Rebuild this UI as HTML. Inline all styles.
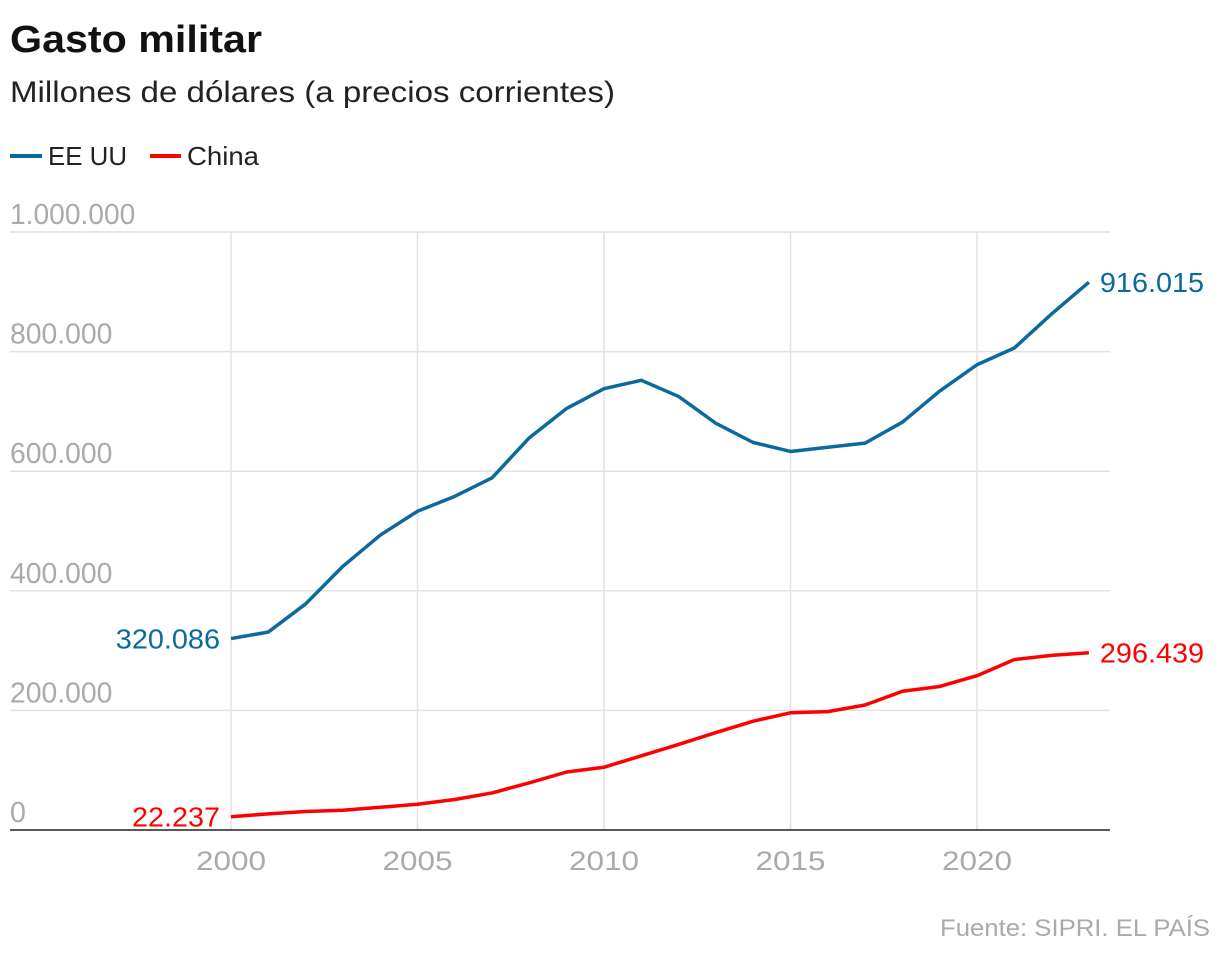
<!DOCTYPE html>
<html><head><meta charset="utf-8"><style>
body{margin:0;background:#fff;width:1220px;height:958px;overflow:hidden;font-family:"Liberation Sans",sans-serif}
svg{display:block}
</style></head><body>
<svg id="chart" width="1220" height="958" xmlns="http://www.w3.org/2000/svg" font-family="Liberation Sans, sans-serif">
<text x="10" y="52" font-size="38" font-weight="bold" fill="#111" textLength="252" lengthAdjust="spacingAndGlyphs">Gasto militar</text>
<text x="10" y="102" font-size="30" fill="#222" textLength="605" lengthAdjust="spacingAndGlyphs">Millones de dólares (a precios corrientes)</text>
<g>
<line x1="10" y1="156" x2="42" y2="156" stroke="#0b6a9c" stroke-width="4"/>
<text x="48" y="165" font-size="26" fill="#222" textLength="79" lengthAdjust="spacingAndGlyphs">EE UU</text>
<line x1="150" y1="156" x2="181" y2="156" stroke="#f00" stroke-width="4"/>
<text x="187" y="165" font-size="26" fill="#222" textLength="72" lengthAdjust="spacingAndGlyphs">China</text>
</g>
<g id="grid"></g><g id="lines"></g><g id="labels"></g>
<text x="940" y="936" font-size="24" fill="#aaa" textLength="270" lengthAdjust="spacingAndGlyphs">Fuente: SIPRI. EL PAÍS</text>
</svg>
<script>
const years=[2000,2001,2002,2003,2004,2005,2006,2007,2008,2009,2010,2011,2012,2013,2014,2015,2016,2017,2018,2019,2020,2021,2022,2023];
const usValues=[320086,331000,378000,441000,493000,533000,558000,589000,656000,705000,738000,752000,725000,680000,648000,633000,640000,647000,682000,734000,778000,806000,863000,916015];
const chinaValues=[22237,27000,31000,33000,38000,43000,51000,62000,79000,97000,105000,124000,143000,163000,182000,196000,198000,209000,232000,240000,258000,285000,292000,296439];
const yTicks=[0,200000,400000,600000,800000,1000000];
const yTickLabels=["0","200.000","400.000","600.000","800.000","1.000.000"];
const xTicks=[2000,2005,2010,2015,2020];
const NS="http://www.w3.org/2000/svg";
const x=v=>231+(v-2000)*(977-231)/20;
const y=v=>830-v*598/1000000;
function mk(tag,attrs,parent,txt){const e=document.createElementNS(NS,tag);for(const k in attrs)e.setAttribute(k,attrs[k]);if(txt!==undefined)e.textContent=txt;parent.appendChild(e);return e;}
const g=document.getElementById('grid'),L=document.getElementById('lines'),T=document.getElementById('labels');
const charW=15.4;
yTicks.forEach((t,i)=>{
 if(t>0){const l=mk('line',{x1:10,x2:1110,y1:y(t),y2:y(t),stroke:'#e2e2e2','stroke-width':1.5},g);
 
 }
 const s=yTickLabels[i];
 const w=s.replace(/\./g,'').length*15.9+(s.split('.').length-1)*7;
 const tx=mk('text',{x:10,y:y(t)-8,'font-size':29,fill:'#aaa',textLength:w,lengthAdjust:'spacingAndGlyphs'},T,s);
 
 
});
xTicks.forEach(t=>{
 const l=mk('line',{x1:x(t),x2:x(t),y1:232,y2:830,stroke:'#e2e2e2','stroke-width':1.5},g);
 
 
 const tx=mk('text',{x:x(t)-35,y:870,'font-size':27,fill:'#aaa',textLength:70,lengthAdjust:'spacingAndGlyphs'},T,String(t));
 
 
});
const ax=mk('line',{x1:10,x2:1110,y1:830,y2:830,stroke:'#222','stroke-width':1.5},g);


function series(vals,color,name){
 const p=mk('polyline',{points:vals.map((v,i)=>x(years[i])+','+y(v)).join(' '),fill:'none',stroke:color,'stroke-width':3.5,'stroke-linejoin':'round'},L);
 
 
 const fmt=v=>v.toLocaleString('de-DE');
 const lw=s=>s.replace(/\./g,'').length*16.2+(s.split('.').length-1)*7;
 const s0=fmt(vals[0]);
 const a=mk('text',{x:x(years[0])-11-lw(s0),y:y(vals[0])+10,'font-size':28,fill:color,textLength:lw(s0),lengthAdjust:'spacingAndGlyphs'},T,s0);
 
 
 const n=vals.length-1;
 const s1=fmt(vals[n]);
 const b=mk('text',{x:x(years[n])+11,y:y(vals[n])+10,'font-size':28,fill:color,textLength:lw(s1),lengthAdjust:'spacingAndGlyphs'},T,s1);
 
 
}
series(usValues,'#0b6a9c','us-line');
series(chinaValues,'#f00','china-line');
</script>
</body></html>
